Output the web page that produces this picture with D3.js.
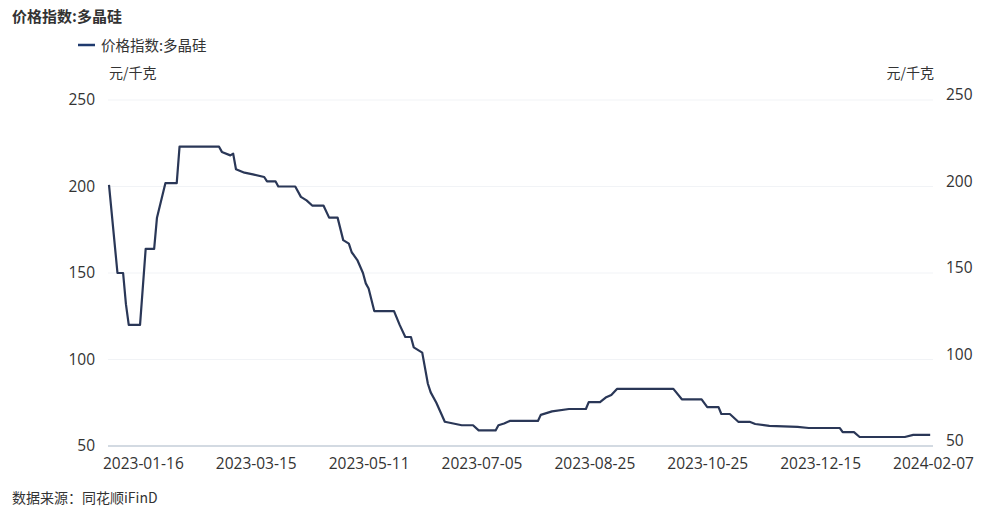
<!DOCTYPE html>
<meta charset="utf-8">
<style>
body { margin: 0; background: #fff; }
text { font-family: "Open Sans", "Noto Sans CJK SC", sans-serif; fill: #333; }
.cn { font-family: "Noto Sans CJK SC", sans-serif; }
</style>
<svg width="1000" height="518"></svg>
<script src="https://cdn.jsdelivr.net/npm/d3@7"></script>
<script>

// trading-day position and price (元/千克)
var dayIdx = [0, 3, 5, 6, 7, 11, 13, 16, 17, 20, 24, 25, 39, 40, 43, 44, 45, 48, 51, 55, 56, 59, 60, 66,
  68, 70, 72, 76, 78, 81, 83, 85, 86, 88, 90, 91, 92, 94, 101, 103, 105, 107, 108, 111, 113, 114, 116,
  119, 122, 125, 129, 131, 137, 138, 140, 142, 152, 153, 155, 157, 163, 169, 170, 174, 176, 178, 180,
  200, 203, 210, 212, 216, 217, 220, 223, 227, 229, 234, 244, 248, 259, 260, 264, 266, 282, 285, 291];
var price = [201, 150, 150, 132, 120, 120, 164, 164, 182, 202, 202, 223, 223, 220, 218, 219, 210, 208, 207, 205.5, 203, 203, 200, 200,
  194, 192, 189, 189, 182, 182, 169, 167, 162, 157.5, 150, 144, 141, 128, 128, 120, 113, 113, 107, 104, 86, 81, 75,
  64, 63, 62, 62, 59, 59, 62, 63, 64.5, 64.5, 68, 69, 70, 71.4, 71.4, 75.4, 75.4, 78, 79.5, 83,
  83, 77, 77, 72.5, 72.5, 68.5, 68.5, 64, 64, 62.7, 61.6, 61, 60.4, 60.4, 58, 58, 55.2, 55.2, 56.4, 56.4];

var tickIdx = [12, 52, 92, 132, 172, 212, 252, 292];
var tickLabels = ["2023-01-16", "2023-03-15", "2023-05-11", "2023-07-05", "2023-08-25", "2023-10-25", "2023-12-15", "2024-02-07"];
var yTicks = [50, 100, 150, 200, 250];

var svg = d3.select("svg");

var x = d3.scaleLinear().domain([0, 292]).range([109, 933]);
var y = d3.scaleLinear().domain([50, 250]).range([446, 100]);

var pts = dayIdx.map(function(d, i) { return [d, price[i]]; });

// faint grid
svg.append("g")
  .selectAll("line")
  .data(yTicks.slice(1))
  .enter().append("line")
    .attr("x1", 108).attr("x2", 933)
    .attr("y1", function(d) { return y(d); })
    .attr("y2", function(d) { return y(d); })
    .attr("stroke", "#f1f3f6");

// base line
svg.append("line")
  .attr("x1", 108).attr("x2", 933)
  .attr("y1", y(50)).attr("y2", y(50))
  .attr("stroke", "#a7b6c6").attr("stroke-width", 1.2);

var yl = d3.axisLeft(y).tickValues(yTicks).tickSize(0).tickPadding(0);
var gl = svg.append("g").attr("transform", "translate(95,0)").call(yl);
var yr = d3.axisRight(y).tickValues(yTicks).tickSize(0).tickPadding(0);
var gr = svg.append("g").attr("transform", "translate(946,-5)").call(yr);
[gl, gr].forEach(function(g) {
  g.select(".domain").remove();
  g.selectAll("text").style("font-size", "15.5px").style("font-family", null).attr("fill", "#333");
});

var xa = d3.axisBottom(x).tickValues(tickIdx)
  .tickFormat(function(d, i) { return tickLabels[i]; })
  .tickSize(0).tickPadding(12);
var gx = svg.append("g").attr("transform", "translate(0," + y(50) + ")").call(xa);
gx.select(".domain").remove();
gx.selectAll("text").style("font-size", "15.5px").style("font-family", null).attr("fill", "#333");

svg.append("path")
  .datum(pts)
  .attr("fill", "none")
  .attr("stroke", "#2a3757")
  .attr("stroke-width", 2.2)
  .attr("stroke-linejoin", "round")
  .attr("d", d3.line()
    .x(function(d) { return x(d[0]); })
    .y(function(d) { return y(d[1]); }));

// titles and legend
svg.append("text").attr("class", "cn").attr("x", 12).attr("y", 22)
  .style("font-size", "15px").style("font-weight", "bold").attr("fill", "#222")
  .text("价格指数:多晶硅");

svg.append("line").attr("x1", 78).attr("x2", 95).attr("y1", 45).attr("y2", 45)
  .attr("stroke", "#1f3a6e").attr("stroke-width", 2.5);
svg.append("text").attr("class", "cn").attr("x", 101).attr("y", 51)
  .style("font-size", "14.5px").attr("fill", "#333")
  .text("价格指数:多晶硅");

svg.append("text").attr("class", "cn").attr("x", 109).attr("y", 78)
  .style("font-size", "14px").attr("fill", "#333").text("元/千克");
svg.append("text").attr("class", "cn").attr("x", 934).attr("y", 78)
  .attr("text-anchor", "end")
  .style("font-size", "14px").attr("fill", "#333").text("元/千克");

svg.append("text").attr("class", "cn").attr("x", 12).attr("y", 503)
  .style("font-size", "14px").attr("fill", "#333").text("数据来源：同花顺iFinD");

</script>
